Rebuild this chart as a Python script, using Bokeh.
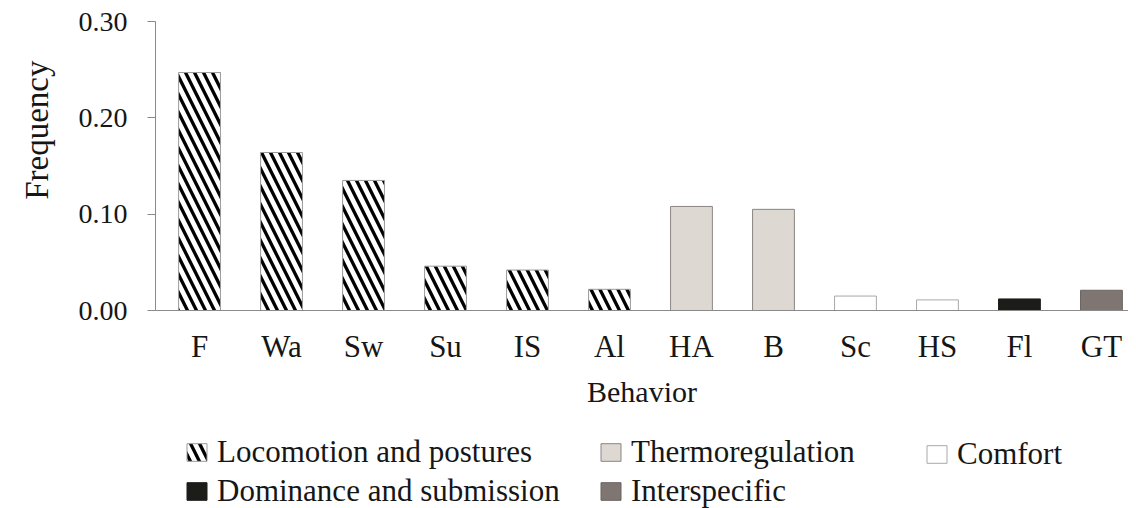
from bokeh.plotting import figure
from bokeh.layouts import column
from bokeh.models import (ColumnDataSource, Range1d, FixedTicker, Legend, LegendItem,
                          NumeralTickFormatter, Title)
from bokeh.embed import file_html
from bokeh.resources import INLINE

behaviors = ["F", "Wa", "Sw", "Su", "IS", "Al", "HA", "B", "Sc", "HS", "Fl", "GT"]
frequency = [0.247, 0.164, 0.135, 0.046, 0.042, 0.022, 0.108, 0.105, 0.015, 0.011, 0.012, 0.021]
group = ["Locomotion and postures"] * 6 + ["Thermoregulation"] * 2 + ["Comfort"] * 2 + \
        ["Dominance and submission", "Interspecific"]

y_ticks = [0.0, 0.1, 0.2, 0.3]

FONT = "Liberation Serif"
TXT = "#161616"
AXIS = "#8a8a8a"
W = 1128

styles = {
    "Locomotion and postures": dict(fill_color="white", line_color="#9a9a9a",
                                    hatch_pattern="\\", hatch_color="black",
                                    hatch_scale=18, hatch_weight=3.3),
    "Thermoregulation": dict(fill_color="#ded8d3", line_color="#8a8583"),
    "Comfort": dict(fill_color="white", line_color="#a8a8a8"),
    "Dominance and submission": dict(fill_color="#1c1c18", line_color="#1c1c18"),
    "Interspecific": dict(fill_color="#7f7672", line_color="#6b6360"),
}

p = figure(width=W, height=410, output_backend="svg", toolbar_location=None,
           x_range=Range1d(-0.537, 11.33), y_range=Range1d(0, 0.30),
           min_border_left=155, min_border_right=0, min_border_top=21,
           min_border_bottom=99)
p.outline_line_color = None
p.xgrid.visible = False
p.ygrid.visible = False

sources = {}
for g in styles:
    idx = [i for i, gg in enumerate(group) if gg == g]
    sources[g] = ColumnDataSource(dict(x=idx, top=[frequency[i] for i in idx]))
    p.vbar(x="x", top="top", bottom=0, width=0.51, source=sources[g], line_width=1,
           **styles[g])

# axes
p.xaxis.ticker = FixedTicker(ticks=list(range(len(behaviors))))
p.xaxis.major_label_overrides = {i: b for i, b in enumerate(behaviors)}
p.xaxis.major_tick_line_color = None
p.xaxis.minor_tick_line_color = None
p.xaxis.axis_line_color = AXIS
p.xaxis.major_label_standoff = 12
p.xaxis.axis_label = "Behavior"
p.xaxis.axis_label_standoff = 8

p.yaxis.ticker = FixedTicker(ticks=y_ticks)
p.yaxis.formatter = NumeralTickFormatter(format="0.00")
p.yaxis.minor_tick_line_color = None
p.yaxis.major_tick_in = 0
p.yaxis.major_tick_out = 8
p.yaxis.major_tick_line_color = AXIS
p.yaxis.axis_line_color = AXIS
p.yaxis.major_label_standoff = 20

for ax, tick_sz in ((p.xaxis[0], "31px"), (p.yaxis[0], "28px")):
    ax.major_label_text_font = FONT
    ax.major_label_text_font_size = tick_sz
    ax.major_label_text_color = TXT
    ax.axis_label_text_font = FONT
    ax.axis_label_text_font_size = "30px"
    ax.axis_label_text_font_style = "normal"
    ax.axis_label_text_color = TXT

ytitle = Title(text="Frequency", align="right", offset=39, standoff=37,
               vertical_align="top",
               text_font=FONT, text_font_size="33px", text_font_style="normal",
               text_color=TXT)
p.add_layout(ytitle, "left")

# legend strip below the chart (proxy bars share the data but lie outside its view)
lf = figure(width=W, height=98, output_backend="svg", toolbar_location=None,
            x_range=p.x_range, y_range=Range1d(1, 2),
            x_axis_location=None, y_axis_location=None,
            min_border_left=0, min_border_right=0, min_border_top=0, min_border_bottom=0)
lf.outline_line_color = None
lf.xgrid.visible = False
lf.ygrid.visible = False

leg_r = {}
for g in styles:
    leg_r[g] = lf.vbar(x="x", top="top", bottom=0, width=0.51, source=sources[g],
                       line_width=1, **styles[g])

def make_legend(labels, loc):
    lg = Legend(items=[LegendItem(label=l, renderers=[leg_r[l]]) for l in labels],
                location=loc, orientation="vertical")
    lg.glyph_width = 25
    lg.glyph_height = 22
    lg.label_height = 18
    lg.label_standoff = 8
    lg.spacing = 3
    lg.padding = 0
    lg.margin = 0
    lg.border_line_color = None
    lg.background_fill_alpha = 0
    lg.label_text_font = FONT
    lg.label_text_font_size = "31px"
    lg.label_text_color = TXT
    return lg

lf.add_layout(make_legend(["Locomotion and postures", "Dominance and submission"], (29, -1)))
lf.add_layout(make_legend(["Thermoregulation", "Interspecific"], (443, -1)))
lf.add_layout(make_legend(["Comfort"], (769, 36)))

open("out.html", "w").write(file_html(column(p, lf, spacing=0), INLINE))
